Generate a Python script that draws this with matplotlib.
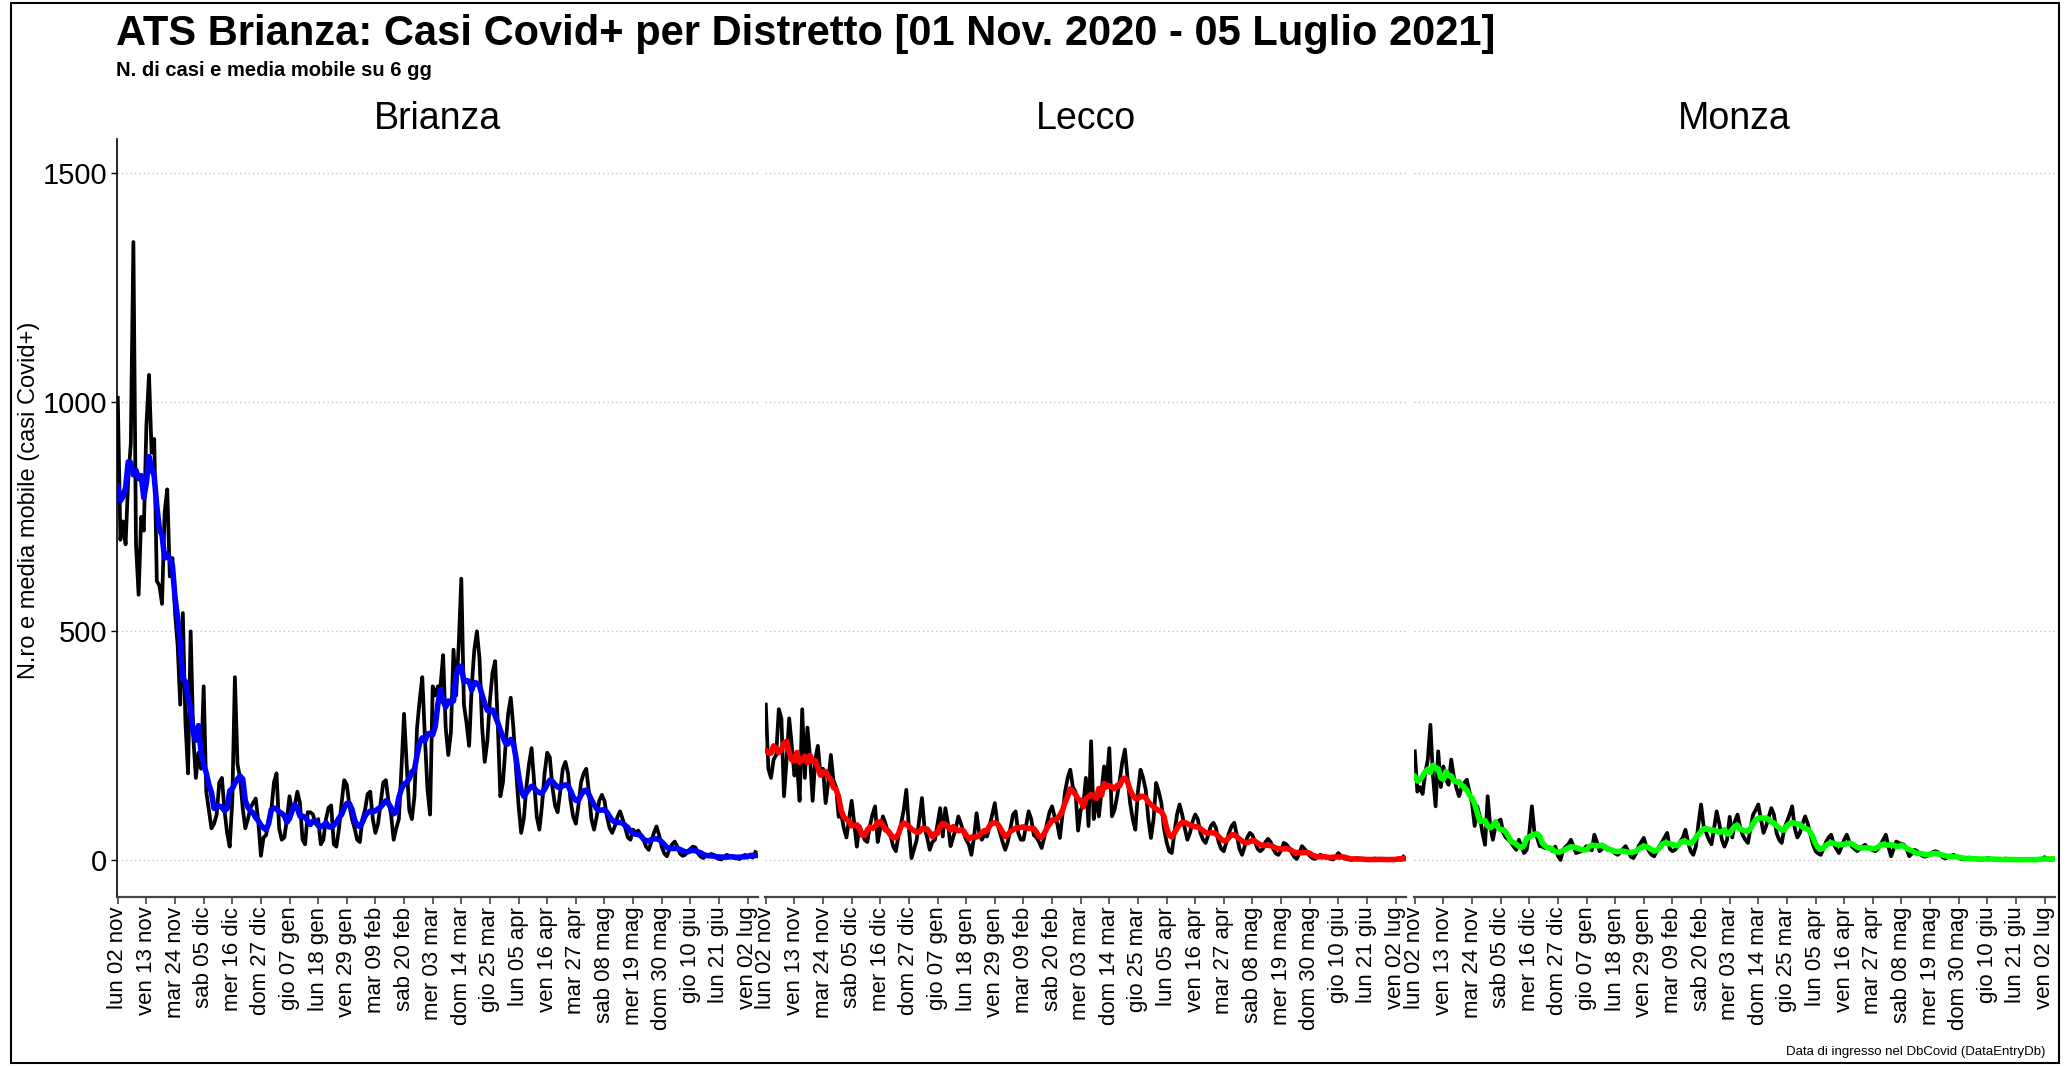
import numpy as np
import pandas as pd
import matplotlib
matplotlib.use('Agg')
import matplotlib.pyplot as plt
from matplotlib.patches import Rectangle

plt.rcParams['font.family'] = ['Liberation Sans', 'DejaVu Sans']

# casi giornalieri per distretto, dal lun 02 nov 2020 al lun 05 lug 2021 (righe = settimane lun..dom)
start_date = '2020-11-02'

brianza = [
    1010, 700, 740, 690, 830, 910, 1350,
    690, 580, 750, 720, 950, 1060, 890,
    920, 610, 600, 560, 760, 810, 620,
    660, 540, 470, 340, 540, 300, 190,
    500, 270, 180, 235, 200, 380, 150,
    110, 70, 80, 100, 170, 180, 110,
    60, 30, 130, 400, 210, 180, 115,
    70, 90, 115, 125, 135, 85, 10,
    50, 55, 90, 110, 170, 190, 70,
    45, 50, 90, 140, 105, 120, 150,
    125, 45, 35, 105, 105, 100, 80,
    90, 35, 45, 90, 115, 120, 35,
    30, 70, 125, 175, 165, 120, 90,
    70, 45, 40, 90, 110, 145, 150,
    90, 60, 80, 125, 170, 175, 130,
    100, 45, 70, 90, 200, 320, 210,
    110, 90, 140, 290, 350, 400, 270,
    155, 100, 380, 360, 380, 380, 448,
    290, 230, 280, 460, 360, 470, 615,
    340, 300, 250, 380, 460, 500, 440,
    290, 215, 260, 350, 410, 435, 300,
    140, 170, 250, 320, 355, 290, 200,
    120, 60, 90, 160, 210, 245, 170,
    95, 67, 120, 190, 235, 225, 160,
    120, 105, 150, 200, 215, 190, 130,
    95, 80, 120, 170, 190, 200, 150,
    90, 67, 95, 130, 143, 130, 95,
    70, 60, 75, 95, 107, 90, 70,
    50, 45, 67, 60, 65, 55, 45,
    30, 23, 40, 60, 74, 55, 30,
    15, 9, 25, 35, 41, 30, 15,
    10, 12, 20, 25, 30, 28, 15,
    8, 5, 12, 10, 14, 12, 6,
    3, 2, 8, 12, 10, 9, 5,
    4, 3, 9, 12, 10, 9, 6,
    18,
]

lecco = [
    340, 200, 180, 220, 230, 330, 310,
    140, 220, 310, 250, 185, 210, 130,
    330, 180, 290, 225, 130, 220, 250,
    190, 200, 125, 170, 230, 175, 160,
    95, 100, 70, 50, 90, 130, 80,
    30, 75, 60, 45, 40, 75, 100,
    118, 40, 70, 96, 80, 60, 52,
    30, 20, 55, 80, 110, 154, 70,
    5, 25, 45, 90, 136, 70, 50,
    23, 40, 45, 80, 114, 52, 114,
    80, 31, 50, 70, 96, 80, 60,
    45, 35, 12, 50, 103, 60, 45,
    55, 52, 75, 100, 125, 80, 60,
    40, 23, 40, 70, 100, 107, 60,
    45, 45, 75, 107, 90, 55, 50,
    40, 27, 50, 80, 105, 118, 95,
    80, 49, 100, 150, 180, 198, 160,
    150, 65, 110, 120, 180, 75, 260,
    90, 140, 96, 150, 205, 170, 245,
    96, 110, 140, 175, 215, 242, 180,
    125, 90, 67, 150, 198, 180, 154,
    90, 49, 90, 169, 150, 125, 70,
    40, 20, 16, 60, 100, 122, 100,
    70, 45, 60, 85, 100, 90, 60,
    45, 38, 55, 75, 82, 70, 40,
    25, 20, 40, 60, 75, 82, 55,
    25, 12, 30, 50, 60, 55, 40,
    25, 20, 25, 40, 47, 40, 25,
    15, 12, 22, 38, 35, 28, 18,
    8, 3, 15, 31, 25, 18, 10,
    5, 3, 8, 12, 10, 8, 5,
    3, 2, 8, 16, 10, 5, 3,
    2, 1, 3, 5, 4, 3, 1,
    1, 0, 2, 4, 3, 2, 1,
    1, 1, 2, 3, 3, 2, 1,
    8,
]

monza = [
    238, 150, 160, 145, 190, 220, 296,
    183, 118, 238, 160, 205, 176, 165,
    220, 183, 158, 140, 160, 169, 176,
    150, 125, 75, 118, 96, 60, 34,
    140, 74, 45, 74, 85, 89, 60,
    50, 45, 38, 30, 23, 45, 30,
    16, 23, 60, 118, 60, 50, 31,
    30, 27, 30, 25, 20, 30, 10,
    1, 23, 30, 35, 45, 30, 16,
    18, 20, 25, 31, 25, 22, 56,
    40, 20, 25, 31, 27, 25, 20,
    15, 12, 18, 25, 31, 20, 8,
    5, 15, 31, 40, 49, 30, 20,
    12, 9, 20, 31, 40, 50, 60,
    25, 20, 23, 30, 41, 50, 67,
    40, 20, 12, 30, 80, 122, 74,
    60, 45, 35, 70, 107, 80, 45,
    30, 45, 95, 50, 85, 100, 74,
    55, 45, 38, 70, 100, 110, 122,
    90, 60, 75, 95, 114, 100, 60,
    45, 38, 70, 85, 100, 118, 70,
    50, 60, 80, 96, 80, 56, 35,
    20, 15, 12, 25, 40, 50, 56,
    35, 25, 16, 30, 45, 56, 40,
    30, 25, 20, 25, 30, 34, 28,
    25, 22, 20, 25, 35, 45, 56,
    30, 9, 25, 41, 38, 36, 34,
    25, 9, 15, 23, 20, 15, 10,
    8, 10, 14, 18, 20, 18, 12,
    6, 4, 8, 10, 12, 9, 5,
    3, 2, 4, 6, 5, 4, 2,
    2, 1, 3, 5, 4, 3, 1,
    1, 1, 2, 4, 3, 2, 1,
    1, 0, 2, 3, 2, 1, 1,
    1, 1, 2, 3, 7, 3, 1,
    2,
]

distretti = ['Brianza', 'Lecco', 'Monza']
serie = [brianza, lecco, monza]
colori_media = ['#0000ff', '#ff0000', '#00ff00']
yticks = [0, 500, 1000, 1500]

giorni = ['lun', 'mar', 'mer', 'gio', 'ven', 'sab', 'dom']
mesi = ['gen', 'feb', 'mar', 'apr', 'mag', 'giu', 'lug', 'ago', 'set', 'ott', 'nov', 'dic']

n = len(brianza)
dates = pd.date_range(start_date, periods=n, freq='D')
x = np.arange(n)
tick_pos = np.arange(0, n, 11)
tick_lab = [f"{giorni[dates[i].weekday()]} {dates[i].day:02d} {mesi[dates[i].month - 1]}" for i in tick_pos]

W, H = 2071, 1066
fig = plt.figure(figsize=(W / 100, H / 100), dpi=100)

lefts = [117, 765, 1414]
pw = 641
bottom, top = 897, 139

for k, (nome, vals, col) in enumerate(zip(distretti, serie, colori_media)):
    ax = fig.add_axes([lefts[k] / W, 1 - bottom / H, pw / W, (bottom - top) / H])
    s = pd.Series(vals, dtype=float)
    mm = s.rolling(6, center=True, min_periods=1).mean()
    ax.plot(x, s.values, color='black', lw=2.7, zorder=3)
    ax.plot(x, mm.values, color=col, lw=4.0, zorder=4)

    ax.set_xlim(-0.3, 246)
    ax.set_ylim(-80, 1575)
    ax.set_yticks(yticks)
    ax.yaxis.grid(True, linestyle=(0, (1, 2.5)), color='#bdbdbd', lw=0.9)
    ax.set_axisbelow(True)
    ax.set_xticks(tick_pos)
    ax.set_xticklabels(tick_lab, rotation=90, fontsize=16)
    ax.tick_params(axis='x', length=5, width=1.2, color='#444444', pad=2)

    for sp in ['top', 'right']:
        ax.spines[sp].set_visible(False)
    ax.spines['bottom'].set_color('#444444')
    ax.spines['bottom'].set_linewidth(1.6)
    if k == 0:
        ax.spines['left'].set_linewidth(1.2)
        ax.tick_params(axis='y', length=4, width=1, labelsize=21, pad=3)
    else:
        ax.spines['left'].set_visible(False)
        ax.tick_params(axis='y', length=0, labelleft=False)

    fig.text((lefts[k] + pw / 2) / W, 1 - 129 / H, nome, ha='center', va='baseline', fontsize=27)

fig.text(116 / W, 1 - 45 / H, 'ATS Brianza: Casi Covid+ per Distretto [01 Nov. 2020 - 05 Luglio 2021]',
         fontsize=30, fontweight='bold', va='baseline')
fig.text(116 / W, 1 - 76 / H, 'N. di casi e media mobile su 6 gg', fontsize=14.5, fontweight='bold', va='baseline')
fig.text(29 / W, 1 - 500 / H, 'N.ro e media mobile (casi Covid+)', rotation=90, ha='center', va='center', fontsize=17)
fig.text(2045 / W, 1 - 1052 / H, 'Data di ingresso nel DbCovid (DataEntryDb)', ha='right', va='center', fontsize=9.5)

fig.patches.append(Rectangle((11 / W, 3 / H), (2059 - 11) / W, (1063 - 3) / H, transform=fig.transFigure,
                             fill=False, ec='black', lw=1.5))

plt.savefig('out.png', dpi=100)
